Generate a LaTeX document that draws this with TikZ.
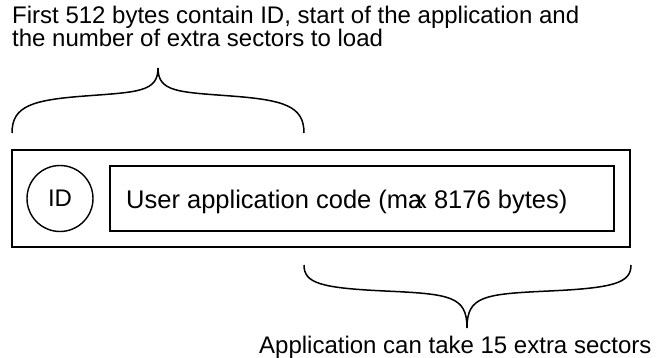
\documentclass[tikz,border=0pt]{standalone}
\usepackage{fontspec}
\setmainfont{Liberation Sans}
\begin{document}
\begin{tikzpicture}[x=1pt,y=-1pt,
  frame/.style={draw, line width=1.6pt, inner sep=0pt},
  bracepath/.style={draw, line width=1.5pt},
  lbl/.style={inner sep=0pt, anchor=base west, font=\fontsize{24}{20.5}\selectfont}]
  \fill[white] (0,0) rectangle (656,358);
  \useasboundingbox (0,0) rectangle (656,358);
  % top label (two lines); base anchor = baseline of last line
  \node[lbl, align=left] (top) at (12,46.5) {First 512 bytes contain ID, start of the application and\\the number of extra sectors to load};
  % top brace
  \coordinate (tbl) at (12,133);
  \coordinate (tbr) at (304,133);
  \coordinate (tbt) at (158,68);
  \draw[bracepath] (tbl) .. controls (12,106) and (32,100) .. (85,96)
        .. controls (138,92) and (158,92) .. (tbt)
        .. controls (158,92) and (178,92) .. (231,96)
        .. controls (284,100) and (304,106) .. (tbr);
  % boxes
  \node[frame, minimum width=618pt, minimum height=97pt] (outer) at (321,198.5) {};
  \node[frame, minimum width=504pt, minimum height=65pt] (code) at (362,198.5) {};
  \node[lbl, font=\fontsize{25.5}{18}\selectfont] (codetext) at (126,208.5) {User application code (ma\kern-0.32em x 8176 bytes)};
  \node[frame, circle, line width=1.4pt, minimum size=66pt, font=\fontsize{24}{18}\selectfont] (id) at (60,198.5) {ID};
  % bottom brace
  \coordinate (bbl) at (304,265);
  \coordinate (bbr) at (631,265);
  \coordinate (bbt) at (467,328);
  \draw[bracepath] (bbl) .. controls (304,283) and (320,288) .. (385,291)
        .. controls (450,294) and (467,296) .. (bbt)
        .. controls (467,296) and (484,294) .. (549,291)
        .. controls (614,288) and (631,283) .. (bbr);
  \node[lbl] (bottom) at (259,353) {Application can take 15 extra sectors};
\end{tikzpicture}
\end{document}
